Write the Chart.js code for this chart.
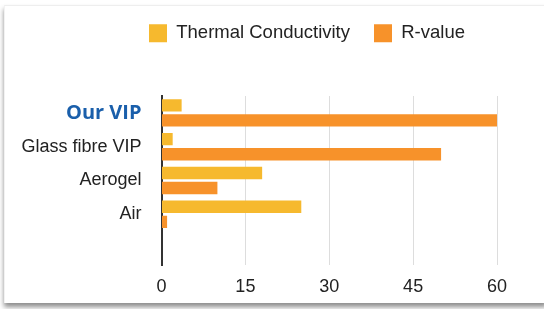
<!DOCTYPE html>
<html>
<head>
<meta charset="utf-8">
<script src="https://cdn.jsdelivr.net/npm/chart.js@4/dist/chart.umd.min.js"></script>
<style>
  html, body { margin: 0; padding: 0; background: #ffffff; width: 544px; height: 309px; overflow: hidden; }
  #card { position: absolute; left: 4px; top: 5px; width: 542px; height: 297px; background: #fff;
          border-top: 1px solid #eeeeee; border-left: 1px solid #f2f2f2;
          box-shadow: 0 4px 5px rgba(0,0,0,0.45); }
  #c { position: absolute; left: 0; top: 0; }
</style>
</head>
<body>
<div id="card"></div>
<canvas id="c" width="544" height="309"></canvas>
<script>
const categories = ["Our VIP", "Glass fibre VIP", "Aerogel", "Air", ""];
const thermalConductivity = [3.6, 2.0, 18, 25, null];
const rValue = [60, 50, 10, 1, null];
const xTicks = [0, 15, 30, 45, 60];

const FONT = "'Liberation Sans', Arial, Helvetica, sans-serif";

const legendSpacer = {
  id: 'legendSpacer',
  beforeInit(chart) {
    const origFit = chart.legend.fit;
    chart.legend.fit = function () {
      origFit.call(this);
      this.height = 96;
    };
  },
  afterLayout(chart) {
    const lg = chart.legend;
    const shift = 307 - (lg.left + lg.right) / 2;
    lg.left += shift;
    lg.right += shift;
  }
};

new Chart(document.getElementById('c'), {
  type: 'bar',
  data: {
    labels: categories,
    datasets: [
      { label: 'Thermal Conductivity', data: thermalConductivity, backgroundColor: '#f6b92e', borderWidth: 0,
        categoryPercentage: 0.89, barPercentage: 0.82 },
      { label: 'R-value', data: rValue, backgroundColor: '#f7922a', borderWidth: 0,
        categoryPercentage: 0.89, barPercentage: 0.82 }
    ]
  },
  options: {
    indexAxis: 'y',
    responsive: false,
    animation: false,
    layout: { padding: { top: 0, left: 0, right: 47, bottom: 10 } },
    plugins: {
      tooltip: { enabled: false },
      legend: {
        position: 'top',
        labels: {
          boxWidth: 18, boxHeight: 18, padding: 24,
          color: '#222', font: { family: FONT, size: 18.5 }
        }
      }
    },
    scales: {
      x: {
        min: 0, max: 60,
        afterBuildTicks(scale) { scale.ticks = xTicks.map(v => ({ value: v })); },
        afterFit(scale) { scale.height = 34; },
        grid: { color: '#dddddd', lineWidth: 1, drawTicks: false },
        border: { display: false },
        ticks: { padding: 11, color: '#222', font: { family: FONT, size: 18 } }
      },
      y: {
        afterFit(scale) { scale.width = 161.5; },
        grid: { display: false, drawTicks: false },
        border: { display: true, color: '#333333', width: 2 },
        ticks: {
          padding: 20,
          color: (ctx) => ctx.index === 0 ? '#1a5fab' : '#222',
          font: (ctx) => ctx.index === 0
            ? { family: "'Open Sans', " + FONT, size: 20, weight: 'bold' }
            : { family: FONT, size: 18 }
        }
      }
    }
  },
  plugins: [legendSpacer]
});
</script>
</body>
</html>
